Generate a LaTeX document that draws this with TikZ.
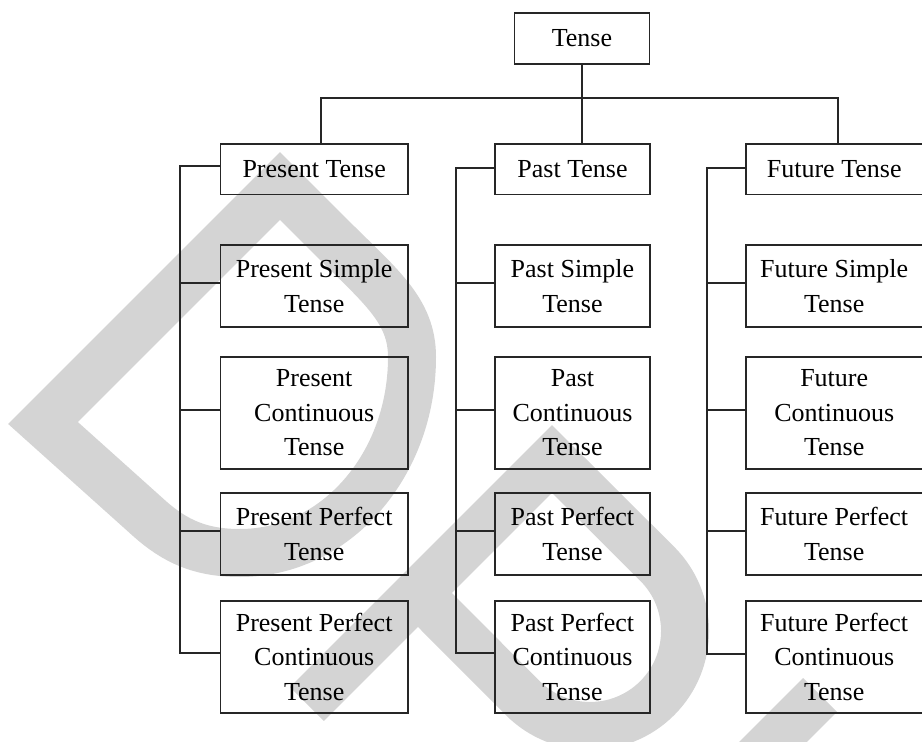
\documentclass[tikz,border=0pt]{standalone}
\usepackage{fontspec}
\setmainfont{Liberation Serif}
\usepackage{tikz}
\usetikzlibrary{calc}
\tikzstyle{block} = [rectangle, draw=black!85, line width=1.4pt, anchor=north west, align=center, inner sep=0pt, font=\fontsize{19.5pt}{25.9pt}\selectfont]
\tikzstyle{pres} = [block, minimum width=140.6pt]
\tikzstyle{past} = [block, minimum width=116.3pt]
\tikzstyle{futr} = [block, minimum width=132.4pt]
\tikzstyle{one} = [minimum height=37.5pt]
\tikzstyle{two} = [minimum height=61.5pt]
\tikzstyle{three} = [minimum height=84pt]
\tikzstyle{line} = [draw=black!85, line width=1.4pt]
\tikzstyle{watermark} = [draw=black!17, line width=36pt, line join=miter]

\begin{document}
\begin{tikzpicture}[x=0.75pt, y=-0.75pt]
\useasboundingbox (0,0) rectangle (922,742);

% grey watermark behind the chart
\path [watermark] (280,186) -- (330,236) .. controls (380,286) and (412,310) .. (412,357) .. controls (412,466) and (335,553) .. (240,553) .. controls (200,553) and (175,541) .. (150,519) -- (43,423) -- cycle;
\path [watermark] (307,704) -- (552,459) -- (657.2,563.8) arc [start angle=-45, end angle=135, radius=95] -- (418,593);
\path [watermark] (820,695) -- (750,765);

\node [block, minimum width=101.3pt, minimum height=38.3pt] (tense) at (513.5,12) {Tense};

\node [pres, one] (present) at (219.5,143.5) {Present Tense};
\node [pres, two] (pres-simple) at (219.5,244) {Present Simple\\Tense};
\node [pres, three] (pres-cont) at (219.5,356) {Present\\Continuous\\Tense};
\node [pres, two] (pres-perf) at (219.5,492) {Present Perfect\\Tense};
\node [pres, three] (pres-pcont) at (219.5,600) {Present Perfect\\Continuous\\Tense};

\node [past, one] (past) at (494,143.5) {Past Tense};
\node [past, two] (past-simple) at (494,244) {Past Simple\\Tense};
\node [past, three] (past-cont) at (494,356) {Past\\Continuous\\Tense};
\node [past, two] (past-perf) at (494,492) {Past Perfect\\Tense};
\node [past, three] (past-pcont) at (494,600) {Past Perfect\\Continuous\\Tense};

\node [futr, one] (future) at (745,143.5) {Future Tense};
\node [futr, two] (fut-simple) at (745,244) {Future Simple\\Tense};
\node [futr, three] (fut-cont) at (745,356) {Future\\Continuous\\Tense};
\node [futr, two] (fut-perf) at (745,492) {Future Perfect\\Tense};
\node [futr, three] (fut-pcont) at (745,600) {Future Perfect\\Continuous\\Tense};

\coordinate (bus) at ($(tense.south) + (0,33)$);
\path [line] (tense.south) -- (tense.south |- past.north);
\path [line] ($(present.north) + (7,0)$) |- (bus) -| ($(future.north) + (3.5,0)$);

\path [line] ($(present.west) + (0,-3)$) -- ++(-39.5,0) |- ($(pres-pcont.west) + (0,-4)$);
\path [line] ($(past.west) + (0,-1)$) -- ++(-38,0) |- ($(past-pcont.west) + (0,-4)$);
\path [line] ($(future.west) + (0,-1)$) -- ++(-38,0) |- ($(fut-pcont.west) + (0,-3)$);
\foreach \n in {pres-simple, pres-cont, pres-perf}
  \path [line] ($(\n.west) + (0,-3)$) -- ++(-39.5,0);
\foreach \n in {past-simple, past-cont, past-perf, fut-simple, fut-cont, fut-perf}
  \path [line] ($(\n.west) + (0,-3)$) -- ++(-38,0);

\end{tikzpicture}
\end{document}
